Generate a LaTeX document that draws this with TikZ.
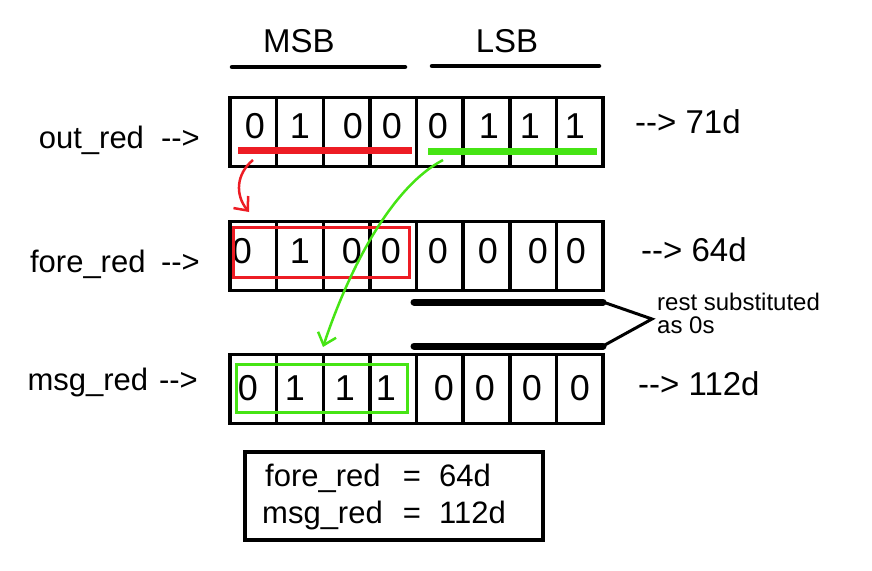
\documentclass[tikz,border=0pt]{standalone}
\usepackage{fontspec}
\setmainfont{Liberation Sans}
\usetikzlibrary{arrows.meta}
\definecolor{pred}{RGB}{237,28,36}
\definecolor{pgreen}{RGB}{70,228,20}
\tikzset{
  cell/.style={draw=black,line width=3.5pt,minimum width=46.625pt,minimum height=69pt,inner sep=0pt},
  digit/.style={inner sep=0pt,font=\fontsize{36}{42}\selectfont,anchor=base},
  lbl/.style={inner sep=0pt,font=\fontsize{31}{37}\selectfont},
  rlbl/.style={inner sep=0pt,font=\fontsize{33}{38}\selectfont,anchor=base west},
  hdr/.style={inner sep=0pt,font=\fontsize{33}{38}\selectfont},
  small/.style={inner sep=0pt,font=\fontsize{24}{23}\selectfont,anchor=base west},
  hdrline/.style={line width=4.5pt,line cap=round},
  bar/.style={line width=7pt},
  thickbar/.style={line width=7pt,line cap=round},
  selbox/.style={line width=3pt},
  flow/.style={line width=2.5pt,-{Straight Barb[length=11pt,width=19pt,line width=2.5pt]}},
}
\begin{document}
\begin{tikzpicture}[x=1pt,y=-1pt]
\useasboundingbox (0,0) rectangle (872,570);

% headers
\node[hdr,anchor=base] (msb) at (299,52) {MSB};
\node[hdr,anchor=base] (lsb) at (507,52) {LSB};
\coordinate (msbA) at (232,67); \coordinate (msbB) at (405,67);
\coordinate (lsbA) at (432,66); \coordinate (lsbB) at (599,66);
\draw[hdrline] (msbA) -- (msbB);
\draw[hdrline] (lsbA) -- (lsbB);

% row labels
\node[lbl,anchor=base east] (lo) at (200,148) {out\_red\hspace{0.55em}-{}->};
\node[lbl,anchor=base east] (lf) at (200,272) {fore\_red\hspace{0.5em}-{}->};
\node[lbl,anchor=base east] (lm) at (198,390) {msg\_red\hspace{0.35em}-{}->};

% right labels
\node[rlbl] (ro) at (635,133) {-{}-> 71d};
\node[rlbl] (rf) at (641,261) {-{}-> 64d};
\node[rlbl] (rm) at (638,395) {-{}-> 112d};

% cells
\foreach \i in {1,...,8} {
  \node[cell] (o\i) at ({230+46.625*(\i-0.5)},132) {};
  \node[cell] (f\i) at ({230+46.625*(\i-0.5)},256) {};
  \node[cell] (m\i) at ({230+46.625*(\i-0.5)},389) {};
}

% digits
\foreach \x/\d [count=\i] in {255/0,300/1,353/0,392/0,438/0,489/1,530/1,575/1}
  \node[digit] (od\i) at (\x,138) {\d};
\foreach \x/\d [count=\i] in {242/0,300/1,352/0,391/0,438/0,488/0,538/0,576/0}
  \node[digit] (fd\i) at (\x,263) {\d};
\foreach \x/\d [count=\i] in {248/0,295/1,345/1,386/1,444/0,485/0,532/0,580/0}
  \node[digit] (md\i) at (\x,400) {\d};

% coloured bars
\coordinate (rbA) at (238,150); \coordinate (rbB) at (412,150);
\coordinate (gbA) at (428,151); \coordinate (gbB) at (597,151);
\draw[bar,pred] (rbA) -- (rbB);
\draw[bar,pgreen] (gbA) -- (gbB);

% selection boxes
\draw[selbox,pred] (233,227) rectangle (409,277);
\draw[selbox,pgreen] (236,364) rectangle (407,412);

% arrows
\coordinate (rs) at (253,160); \coordinate (re) at (249,212);
\draw[flow,pred] (rs) .. controls (236,174) and (235,195) .. (re);
\coordinate (gs) at (443,160); \coordinate (ge) at (323,347);
\draw[flow,pgreen] (gs) .. controls (390,188) and (348,272) .. (ge);

% rest substituted
\coordinate (tb1A) at (414,302); \coordinate (tb1B) at (603,302);
\coordinate (tb2A) at (414,346); \coordinate (tb2B) at (603,346);
\draw[thickbar] (tb1A) -- (tb1B);
\draw[thickbar] (tb2A) -- (tb2B);
\coordinate (brk) at (652,319);
\draw[line width=3pt,line join=miter] (tb1B) -- (brk) -- (tb2B);
\node[small] (rest1) at (657,310) {rest substituted};
\node[small] (rest2) at (657,333) {as 0s};

% summary box
\node[draw=black,line width=4.5pt,minimum width=298pt,minimum height=88pt,inner sep=0pt] (sum) at (394,496) {};
\node[lbl,anchor=base west] (s1a) at (265,486) {fore\_red};
\node[lbl,anchor=base] (s1b) at (412,486) {=};
\node[lbl,anchor=base west] (s1c) at (439,486) {64d};
\node[lbl,anchor=base west] (s2a) at (262,523) {msg\_red};
\node[lbl,anchor=base] (s2b) at (412,523) {=};
\node[lbl,anchor=base west] (s2c) at (439,523) {112d};
\end{tikzpicture}
\end{document}
